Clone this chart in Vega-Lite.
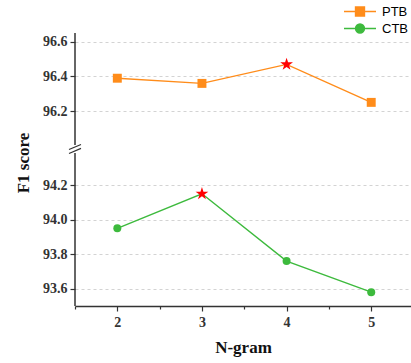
{
  "$schema": "https://vega.github.io/schema/vega-lite/v6.json",
  "width": 336,
  "height": 273,
  "autosize": {"type": "none"},
  "padding": {"left": 75, "top": 33, "right": 0, "bottom": 57},
  "config": {
    "view": {"stroke": null},
    "axis": {
      "labelFont": "Liberation Serif",
      "labelFontWeight": "bold",
      "labelFontSize": 14,
      "labelColor": "#333333",
      "titleFont": "Liberation Serif",
      "titleFontWeight": "bold",
      "titleFontSize": 17,
      "titleColor": "#111111",
      "tickColor": "#333333",
      "domainColor": "#333333",
      "tickWidth": 1.2,
      "domainWidth": 1.5,
      "tickSize": 5
    }
  },
  "datasets": {
    "scores": [
      {"ngram": 2, "series": "PTB", "F1": 96.39},
      {"ngram": 3, "series": "PTB", "F1": 96.36},
      {"ngram": 4, "series": "PTB", "F1": 96.47},
      {"ngram": 5, "series": "PTB", "F1": 96.25},
      {"ngram": 2, "series": "CTB", "F1": 93.95},
      {"ngram": 3, "series": "CTB", "F1": 94.15},
      {"ngram": 4, "series": "CTB", "F1": 93.76},
      {"ngram": 5, "series": "CTB", "F1": 93.58}
    ],
    "axisSegments": [
      {"lo": 93.5, "hi": 94.386},
      {"lo": 96.003, "hi": 96.652}
    ]
  },
  "layer": [
    {
      "data": {"name": "axisSegments"},
      "mark": {"type": "rule", "color": "#333333", "strokeWidth": 1.5},
      "encoding": {
        "x": {"datum": 1.5, "type": "quantitative"},
        "y": {"field": "lo", "type": "quantitative"},
        "y2": {"field": "hi"}
      }
    },
    {
      "data": {"values": [{}]},
      "mark": {
        "type": "point",
        "shape": "M-1,0.1L1,-0.75M-1,0.75L1,-0.1",
        "filled": false,
        "color": "#333333",
        "strokeWidth": 1.2,
        "opacity": 1,
        "size": 144
      },
      "encoding": {
        "x": {"datum": 1.5, "type": "quantitative"},
        "y": {"datum": 95.2, "type": "quantitative"}
      }
    },
    {
      "data": {"name": "scores"},
      "mark": {"type": "line", "strokeWidth": 1.4},
      "encoding": {
        "x": {
          "field": "ngram", "type": "quantitative",
          "scale": {"domain": [1.5, 5.47], "nice": false, "zero": false},
          "axis": {
            "title": "N-gram",
            "values": [1.5, 2, 2.5, 3, 3.5, 4, 4.5, 5],
            "grid": false,
            "tickSize": {"condition": {"test": "datum.value % 1 != 0", "value": 3}, "value": 5},
            "labelExpr": "datum.value % 1 != 0 ? '' : format(datum.value, 'd')",
            "labelPadding": 4,
            "titlePadding": 10
          }
        },
        "y": {
          "field": "F1", "type": "quantitative",
          "scale": {
            "domain": [93.5, 94.386, 96.003, 96.652],
            "range": [273, 120, 112, 0],
            "nice": false, "zero": false
          },
          "axis": {
            "title": "F1 score",
            "titleY": 129.5,
            "domain": false,
            "values": [93.6, 93.7, 93.8, 93.9, 94.0, 94.1, 94.2, 94.3, 96.2, 96.3, 96.4, 96.5, 96.6],
            "grid": true,
            "gridColor": "#c8c8c8",
            "gridDash": [3, 3],
            "gridWidth": 0.8,
            "gridOpacity": {"condition": {"test": "round(datum.value*10) % 2 == 1", "value": 0}, "value": 1},
            "tickSize": {"condition": {"test": "round(datum.value*10) % 2 == 1", "value": 3}, "value": 5},
            "labelExpr": "round(datum.value*10) % 2 == 1 ? '' : format(datum.value, '.1f')",
            "labelPadding": 3,
            "titlePadding": 10
          }
        },
        "color": {
          "field": "series", "type": "nominal",
          "scale": {"domain": ["PTB", "CTB"], "range": ["#ff8c1a", "#3dba3d"]},
          "legend": {
            "title": null,
            "orient": "none",
            "legendX": 276,
            "legendY": -30.5,
            "padding": 0,
            "rowPadding": 0,
            "symbolSize": 256,
            "labelOffset": 13,
            "labelFont": "Liberation Sans",
            "labelFontSize": 13,
            "labelColor": "#000000",
            "encode": {
              "symbols": {
                "update": {
                  "shape": {"signal": "datum.value == 'PTB' ? 'M-2,0H2M-0.56,-0.56H0.56V0.56H-0.56Z' : 'M-2,0H2M0.56,0A0.56,0.56,0,1,1,-0.56,0A0.56,0.56,0,1,1,0.56,0Z'"},
                  "fill": {"signal": "datum.value == 'PTB' ? '#ff8c1a' : '#3dba3d'"},
                  "stroke": {"signal": "datum.value == 'PTB' ? '#ff8c1a' : '#3dba3d'"},
                  "strokeWidth": {"value": 1.4},
                  "opacity": {"value": 1},
                  "fillOpacity": {"value": 1}
                }
              }
            }
          }
        }
      }
    },
    {
      "data": {"name": "scores"},
      "transform": [
        {"filter": "datum.series == 'PTB' && datum.ngram != 4"}
      ],
      "mark": {"type": "point", "shape": "square", "filled": true, "opacity": 1, "size": 80},
      "encoding": {
        "x": {"field": "ngram", "type": "quantitative"},
        "y": {"field": "F1", "type": "quantitative"},
        "color": {"field": "series", "type": "nominal"}
      }
    },
    {
      "data": {"name": "scores"},
      "transform": [
        {"filter": "datum.series == 'CTB' && datum.ngram != 3"}
      ],
      "mark": {"type": "point", "shape": "circle", "filled": true, "opacity": 1, "size": 64},
      "encoding": {
        "x": {"field": "ngram", "type": "quantitative"},
        "y": {"field": "F1", "type": "quantitative"},
        "color": {"field": "series", "type": "nominal"}
      }
    },
    {
      "data": {"name": "scores"},
      "transform": [
        {"filter": "(datum.series == 'PTB' && datum.ngram == 4) || (datum.series == 'CTB' && datum.ngram == 3)"}
      ],
      "mark": {
        "type": "point",
        "shape": "M0,-1L0.223,-0.307L0.951,-0.309L0.361,0.117L0.588,0.809L0,0.38L-0.588,0.809L-0.361,0.117L-0.951,-0.309L-0.223,-0.307Z",
        "filled": true,
        "fill": "#ff0000",
        "strokeWidth": 0,
        "opacity": 1,
        "size": 180
      },
      "encoding": {
        "x": {"field": "ngram", "type": "quantitative"},
        "y": {"field": "F1", "type": "quantitative"}
      }
    }
  ]
}
